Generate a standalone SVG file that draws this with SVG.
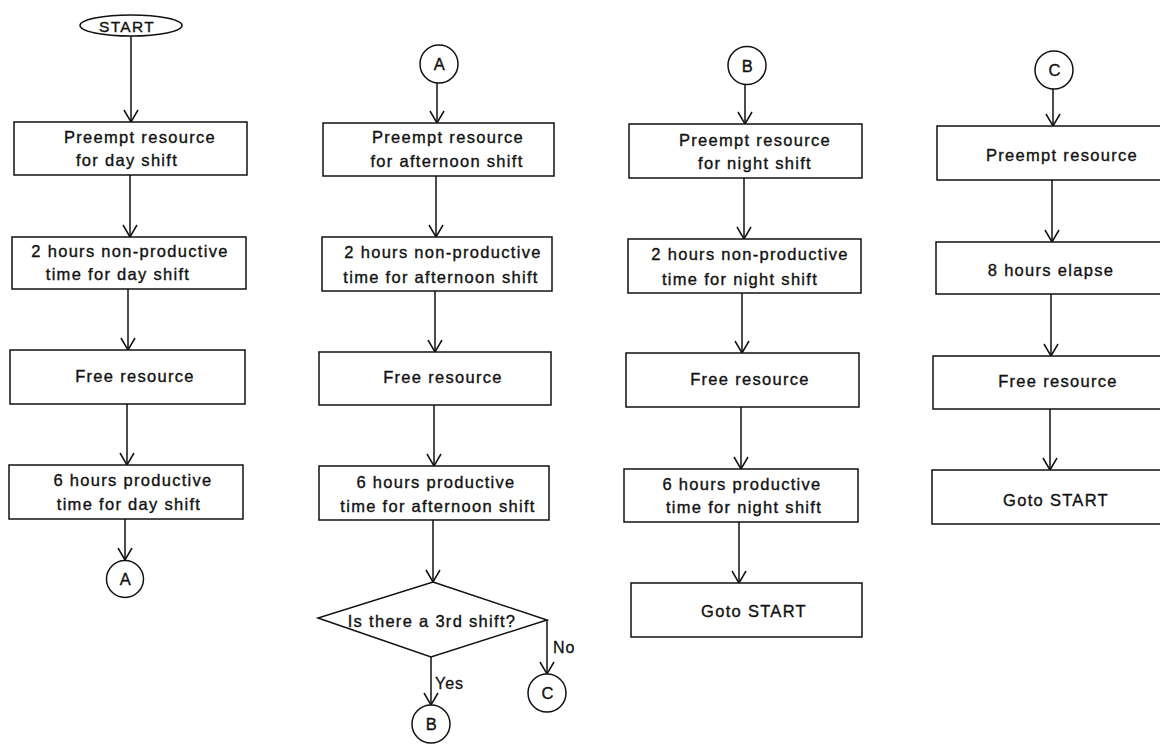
<svg xmlns="http://www.w3.org/2000/svg" width="1160" height="745" viewBox="0 0 1160 745">
  <style>
    .bg { fill: #ffffff; }
    .box { fill: #ffffff; stroke: #111111; stroke-width: 1.5; }
    .conn { fill: none; stroke: #111111; stroke-width: 1.5; marker-end: url(#vhead); }
    .lbl { font-family: "Liberation Sans", Arial, sans-serif; font-size: 16.5px; letter-spacing: 1.3px; fill: #111111; stroke: #111111; stroke-width: 0.35; text-anchor: middle; }
    .side { font-family: "Liberation Sans", Arial, sans-serif; font-size: 16px; letter-spacing: 1px; fill: #111111; stroke: #111111; stroke-width: 0.3; }
  </style>
  <defs>
    <marker id="vhead" markerUnits="userSpaceOnUse" markerWidth="16" markerHeight="16" refX="12" refY="7" orient="auto" overflow="visible">
      <path d="M0,0 L12,7 L0,14" fill="none" stroke="#111111" stroke-width="1.5"/>
    </marker>
  </defs>
  <rect class="bg" x="0" y="0" width="1160" height="745"/>

  <!-- connectors -->
  <g id="connectors">
    <!-- day shift column -->
    <line class="conn" x1="131" y1="36" x2="131" y2="122"/>
    <line class="conn" x1="130" y1="175" x2="130" y2="237"/>
    <line class="conn" x1="128" y1="289" x2="128" y2="350"/>
    <line class="conn" x1="127" y1="404" x2="127" y2="465"/>
    <line class="conn" x1="125" y1="519" x2="125" y2="560"/>
    <!-- afternoon shift column -->
    <line class="conn" x1="437" y1="83" x2="437" y2="123"/>
    <line class="conn" x1="436" y1="176" x2="436" y2="237"/>
    <line class="conn" x1="435" y1="291" x2="435" y2="352"/>
    <line class="conn" x1="434" y1="405" x2="434" y2="466"/>
    <line class="conn" x1="433" y1="520" x2="433" y2="582"/>
    <line class="conn" x1="431" y1="657" x2="431" y2="705"/>
    <line class="conn" x1="547" y1="620" x2="547" y2="674"/>
    <!-- night shift column -->
    <line class="conn" x1="745" y1="85" x2="745" y2="124"/>
    <line class="conn" x1="744" y1="178" x2="744" y2="239"/>
    <line class="conn" x1="742" y1="293" x2="742" y2="353"/>
    <line class="conn" x1="741" y1="407" x2="741" y2="469"/>
    <line class="conn" x1="739" y1="522" x2="739" y2="583"/>
    <!-- resource column -->
    <line class="conn" x1="1053" y1="89" x2="1053" y2="126"/>
    <line class="conn" x1="1052" y1="180" x2="1052" y2="242"/>
    <line class="conn" x1="1051" y1="294" x2="1051" y2="356"/>
    <line class="conn" x1="1050" y1="409" x2="1050" y2="470"/>
  </g>

  <!-- day shift column -->
  <g id="start">
    <ellipse class="box" cx="131" cy="25.5" rx="51" ry="10.5"/>
    <text class="lbl" x="127" y="32" style="font-size:15.5px">START</text>
  </g>
  <g id="day-preempt">
    <rect class="box" x="14" y="122" width="233" height="53"/>
    <text class="lbl" x="140" y="143">Preempt resource</text>
    <text class="lbl" x="127" y="166">for day shift</text>
  </g>
  <g id="day-nonprod">
    <rect class="box" x="12" y="237" width="234" height="52"/>
    <text class="lbl" x="130" y="257">2 hours non-productive</text>
    <text class="lbl" x="118" y="280">time for day shift</text>
  </g>
  <g id="day-free">
    <rect class="box" x="10" y="350" width="235" height="54"/>
    <text class="lbl" x="135" y="382">Free resource</text>
  </g>
  <g id="day-prod">
    <rect class="box" x="9" y="465" width="234" height="54"/>
    <text class="lbl" x="133" y="486">6 hours productive</text>
    <text class="lbl" x="129" y="510">time for day shift</text>
  </g>
  <g id="day-to-a">
    <circle class="box" cx="125" cy="579" r="18.5"/>
    <text class="lbl" x="126" y="585">A</text>
  </g>

  <!-- afternoon shift column -->
  <g id="from-a">
    <circle class="box" cx="439" cy="64" r="19"/>
    <text class="lbl" x="440" y="70">A</text>
  </g>
  <g id="aft-preempt">
    <rect class="box" x="323" y="123" width="231" height="53"/>
    <text class="lbl" x="448" y="143">Preempt resource</text>
    <text class="lbl" x="447" y="167">for afternoon shift</text>
  </g>
  <g id="aft-nonprod">
    <rect class="box" x="322" y="237" width="230" height="54"/>
    <text class="lbl" x="443" y="258">2 hours non-productive</text>
    <text class="lbl" x="441" y="283">time for afternoon shift</text>
  </g>
  <g id="aft-free">
    <rect class="box" x="319" y="352" width="232" height="53"/>
    <text class="lbl" x="443" y="383">Free resource</text>
  </g>
  <g id="aft-prod">
    <rect class="box" x="319" y="466" width="230" height="54"/>
    <text class="lbl" x="436" y="488">6 hours productive</text>
    <text class="lbl" x="438" y="512">time for afternoon shift</text>
  </g>
  <g id="third-shift">
    <polygon class="box" points="433,582 547,620 431,657 318,618"/>
    <text class="lbl" x="432" y="627">Is there a 3rd shift?</text>
    <text class="side" x="435" y="689">Yes</text>
    <text class="side" x="553" y="653">No</text>
  </g>
  <g id="aft-to-b">
    <circle class="box" cx="431" cy="724" r="19"/>
    <text class="lbl" x="432" y="730">B</text>
  </g>
  <g id="aft-to-c">
    <circle class="box" cx="547" cy="693" r="19"/>
    <text class="lbl" x="548" y="699">C</text>
  </g>

  <!-- night shift column -->
  <g id="from-b">
    <circle class="box" cx="747" cy="65.5" r="19"/>
    <text class="lbl" x="748" y="71.5">B</text>
  </g>
  <g id="night-preempt">
    <rect class="box" x="629" y="124" width="233" height="54"/>
    <text class="lbl" x="755" y="146">Preempt resource</text>
    <text class="lbl" x="755" y="169">for night shift</text>
  </g>
  <g id="night-nonprod">
    <rect class="box" x="628" y="239" width="233" height="54"/>
    <text class="lbl" x="750" y="260">2 hours non-productive</text>
    <text class="lbl" x="740" y="285">time for night shift</text>
  </g>
  <g id="night-free">
    <rect class="box" x="626" y="353" width="233" height="54"/>
    <text class="lbl" x="750" y="385">Free resource</text>
  </g>
  <g id="night-prod">
    <rect class="box" x="624" y="469" width="234" height="53"/>
    <text class="lbl" x="742" y="490">6 hours productive</text>
    <text class="lbl" x="744" y="513">time for night shift</text>
  </g>
  <g id="night-goto">
    <rect class="box" x="631" y="583" width="231" height="54"/>
    <text class="lbl" x="754" y="617">Goto START</text>
  </g>

  <!-- resource column -->
  <g id="from-c">
    <circle class="box" cx="1054" cy="70" r="19"/>
    <text class="lbl" x="1055" y="76">C</text>
  </g>
  <g id="res-preempt">
    <rect class="box" x="937" y="126" width="240" height="54"/>
    <text class="lbl" x="1062" y="161">Preempt resource</text>
  </g>
  <g id="res-elapse">
    <rect class="box" x="936" y="242" width="240" height="52"/>
    <text class="lbl" x="1051" y="276">8 hours elapse</text>
  </g>
  <g id="res-free">
    <rect class="box" x="933" y="356" width="240" height="53"/>
    <text class="lbl" x="1058" y="387">Free resource</text>
  </g>
  <g id="res-goto">
    <rect class="box" x="932" y="470" width="240" height="54"/>
    <text class="lbl" x="1056" y="506">Goto START</text>
  </g>
</svg>
